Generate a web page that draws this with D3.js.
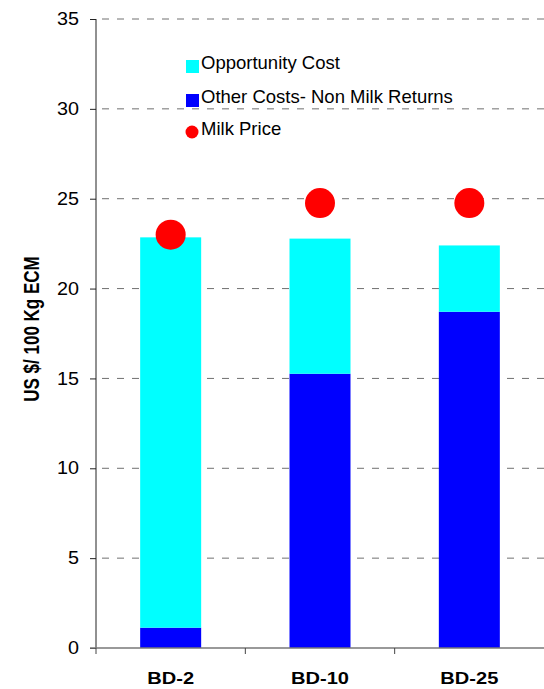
<!DOCTYPE html>
<html>
<head>
<meta charset="utf-8">
<script src="https://cdn.jsdelivr.net/npm/d3@7"></script>
<style>
  body { margin: 0; background: #fff; }
  text { font-family: "Liberation Sans", Arial, sans-serif; }
</style>
</head>
<body>
<div id="chart"></div>
<script>
const width = 544
const height = 689
const margin = { top: 19, bottom: 41, left: 96, right: 0 }

// Datos
const categories = ["BD-2", "BD-10", "BD-25"]
const otherCosts = [1.13, 15.26, 18.71]
const opportunityCost = [21.72, 7.52, 3.69]
const milkPrice = [23.0, 24.76, 24.76]
const yTicks = [0, 5, 10, 15, 20, 25, 30, 35]

const svg = d3.select("#chart")
  .append("svg")
  .attr("width", width)
  .attr("height", height)

const innerW = width - margin.left - margin.right
const innerH = height - margin.top - margin.bottom

const g = svg.append("g")
  .attr("transform", `translate(${margin.left}, ${margin.top})`)

// Escalas
const x = d3.scaleBand().domain(categories).range([0, innerW]).paddingInner(0).paddingOuter(0)
const y = d3.scaleLinear().domain([0, 35]).range([innerH, 0])
const barW = 61

// Grid
g.append("g")
  .selectAll("line")
  .data(yTicks.filter(d => d > 0))
  .join("line")
    .attr("x1", 0)
    .attr("x2", innerW)
    .attr("y1", d => y(d))
    .attr("y2", d => y(d))
    .attr("stroke", "#707070")
    .attr("stroke-width", 1)
    .attr("stroke-dasharray", "7,8")
    .attr("stroke-dashoffset", -6)

// Barras apiladas
const stackData = categories.map((c, i) => ({ cat: c, other: otherCosts[i], opp: opportunityCost[i] }))
const series = d3.stack().keys(["other", "opp"])(stackData)
const colors = { other: "#0000ff", opp: "#00ffff" }

g.append("g")
  .selectAll("g")
  .data(series)
  .join("g")
    .attr("fill", d => colors[d.key])
  .selectAll("rect")
  .data(d => d)
  .join("rect")
    .attr("x", d => x(d.data.cat) + x.bandwidth() / 2 - barW / 2)
    .attr("width", barW)
    .attr("y", d => y(d[1]))
    .attr("height", d => y(d[0]) - y(d[1]))

// Precio de la leche
g.append("g")
  .selectAll("circle")
  .data(categories)
  .join("circle")
    .attr("cx", d => x(d) + x.bandwidth() / 2)
    .attr("cy", (d, i) => y(milkPrice[i]))
    .attr("r", 15)
    .attr("fill", "#ff0000")

// Ejes
const yAxis = d3.axisLeft(y).tickValues(yTicks).tickSize(6).tickPadding(9)
const yAxisG = g.append("g").call(yAxis)
yAxisG.select(".domain").attr("stroke", "#222").attr("d", `M0,${innerH}V0`)
yAxisG.selectAll(".tick line").attr("stroke", "#222")
yAxisG.selectAll(".tick text")
  .attr("font-size", 17.5)
  .attr("font-family", "Liberation Sans, Arial, sans-serif")
  .attr("fill", "#000")
  .attr("transform", "scale(1.13,1)")

const xAxis = d3.axisBottom(x).tickSize(0).tickPadding(24)
const xAxisG = g.append("g").attr("transform", `translate(0, ${innerH})`).call(xAxis)
xAxisG.select(".domain").attr("stroke", "#777").attr("stroke-width", 1.5).attr("d", `M-6,0H${innerW}`)
xAxisG.selectAll(".tick text")
  .attr("font-size", 17)
  .attr("font-weight", "bold")
  .attr("font-family", "Liberation Sans, Arial, sans-serif")
  .attr("fill", "#000")
  .attr("transform", "scale(1.18,1)")

// marcas entre categorías
g.append("g")
  .selectAll("line")
  .data(categories)
  .join("line")
    .attr("x1", d => x(d))
    .attr("x2", d => x(d))
    .attr("y1", innerH)
    .attr("y2", innerH + 6)
    .attr("stroke", "#444")

// Título eje Y
svg.append("text")
  .attr("transform", `translate(39, 329) scale(1.25,1) rotate(-90)`)
  .attr("text-anchor", "middle")
  .attr("font-size", 17)
  .attr("font-weight", "bold")
  .text("US $/ 100 Kg ECM")

// Leyenda
const legend = svg.append("g").attr("transform", "translate(186, 0)")
const legendItems = [
  { label: "Opportunity Cost", type: "rect", color: "#00ffff", y: 69 },
  { label: "Other Costs- Non Milk Returns", type: "rect", color: "#0000ff", y: 103 },
  { label: "Milk Price", type: "circle", color: "#ff0000", y: 135 }
]
legendItems.forEach(d => {
  if (d.type === "rect") {
    legend.append("rect").attr("x", 0).attr("y", d.y - 9).attr("width", 13).attr("height", 13).attr("fill", d.color)
  } else {
    legend.append("circle").attr("cx", 6).attr("cy", d.y - 3).attr("r", 6.5).attr("fill", d.color)
  }
  legend.append("text")
    .attr("x", 15)
    .attr("y", d.y)
    .attr("font-size", 18.5)
    .text(d.label)
})
</script>
</body>
</html>
